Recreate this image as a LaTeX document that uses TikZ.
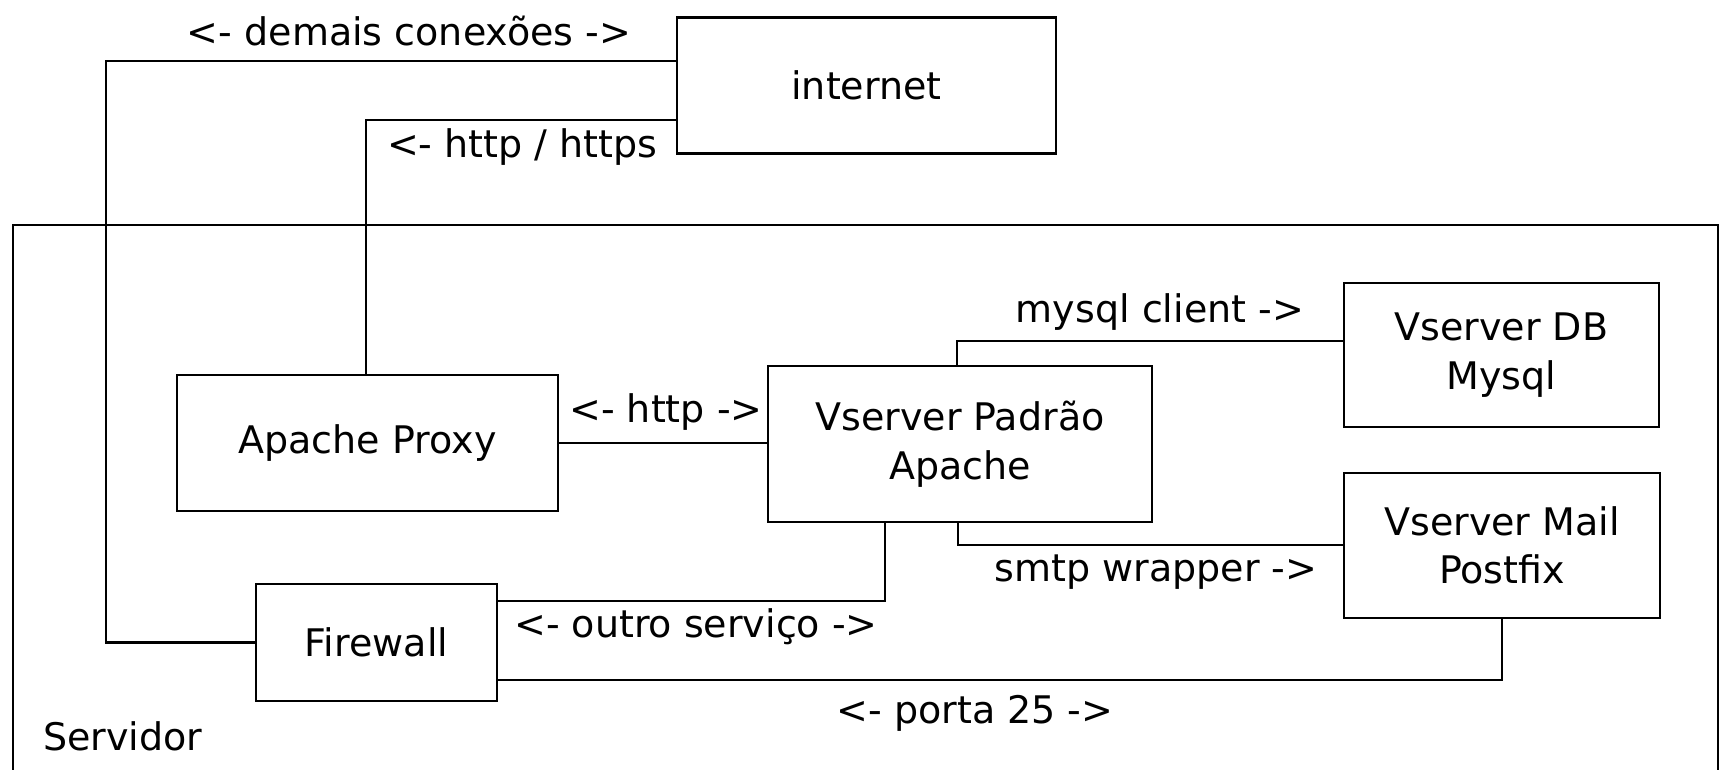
\documentclass[tikz,border=0pt]{standalone}
\usepackage{fontspec}
\setmainfont{DejaVu Sans}
\begin{document}
\begin{tikzpicture}[x=1pt,y=-1pt,
  line width=2.2pt,
  box/.style={draw, rectangle, inner sep=0pt, align=center, font=\fontsize{38}{48.5}\selectfont},
  lbl/.style={inner sep=0pt, font=\fontsize{38}{48.5}\selectfont},
  conn/.style={draw}]
\useasboundingbox (0,0) rectangle (1720,770);
% server frame
\draw[line width=1.4pt] (13,775) -- (13,225) -- (1718,225) -- (1718,775);
\node[lbl, anchor=west] (srv) at (42,736) {Servidor};
% boxes
\node[box, minimum width=379pt, minimum height=136pt] (inet) at (866.5,85.5) {internet};
\node[box, minimum width=381pt, minimum height=136pt] (proxy) at (367.5,443) {Apache Proxy};
\node[box, minimum width=384pt, minimum height=156pt] (pad) at (960,444) {Vserver Padrão\\Apache};
\node[box, minimum width=315pt, minimum height=144pt] (db) at (1501.5,355) {Vserver DB\\Mysql};
\node[box, minimum width=316pt, minimum height=145pt] (mail) at (1502,545.5) {Vserver Mail\\Postfix};
\node[box, minimum width=241pt, minimum height=117pt] (fw) at (376.5,642.5) {Firewall};
% coordinates
\coordinate (d1) at (106,61);
\coordinate (h1) at (366,120);
\coordinate (m1) at (957,341);
\coordinate (s1) at (958,545);
\coordinate (o1) at (885,601);
\coordinate (p1) at (1502,680);
% connectors
\draw (inet.west |- d1) -- (d1) |- (fw.west);
\draw (inet.west |- h1) -- (h1) -- (h1 |- proxy.north);
\draw (proxy.east) -- (proxy.east -| pad.west);
\draw (m1 |- pad.north) -- (m1) -- (m1 -| db.west);
\draw (s1 |- pad.south) -- (s1) -- (s1 -| mail.west);
\draw (o1 -| fw.east) -- (o1) -- (o1 |- pad.south);
\draw (p1 -| fw.east) -- (p1) -- (mail.south);
% labels
\node[lbl] (l1) at (409,31) {<- demais conexões ->};
\node[lbl, anchor=west] (l2) at (386,147) {<- http / https};
\node[lbl] (l3) at (666,412) {<- http ->};
\node[lbl] (l4) at (1160,312) {mysql client ->};
\node[lbl] (l5) at (1156,572) {smtp wrapper ->};
\node[lbl] (l6) at (696,627) {<- outro serviço ->};
\node[lbl] (l7) at (975,713) {<- porta 25 ->};
\end{tikzpicture}
\end{document}
